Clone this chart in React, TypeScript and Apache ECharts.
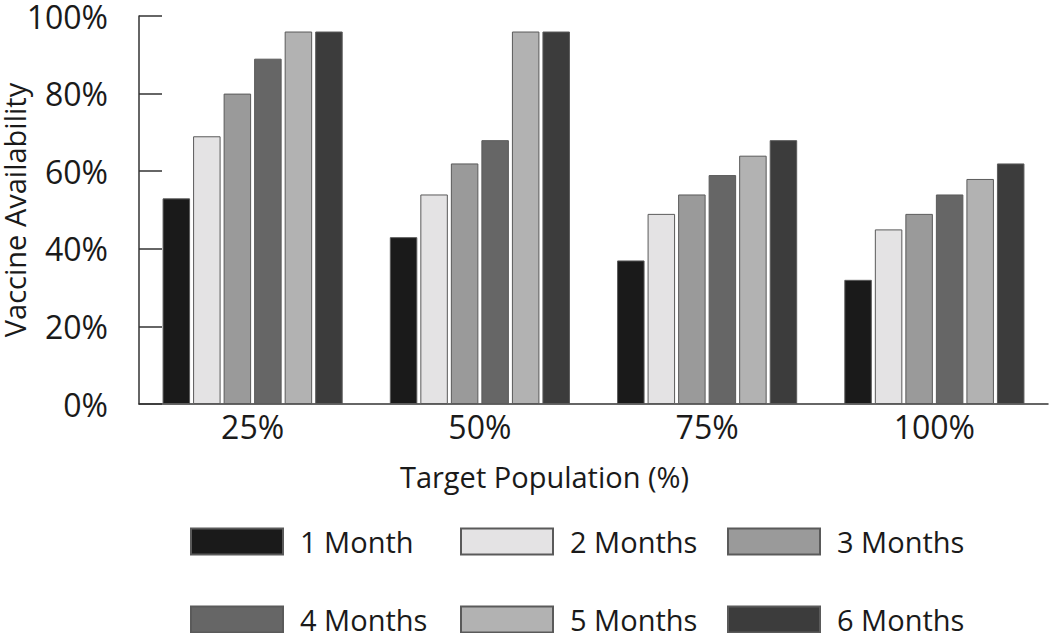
import React, { useEffect, useRef } from "react";
import * as echarts from "echarts";

const categories = ["25%", "50%", "75%", "100%"];
const seriesNames = ["1 Month", "2 Months", "3 Months", "4 Months", "5 Months", "6 Months"];
const month1 = [53, 43, 37, 32];
const month2 = [69, 54, 49, 45];
const month3 = [80, 62, 54, 49];
const month4 = [89, 68, 59, 54];
const month5 = [96, 96, 64, 58];
const month6 = [96, 96, 68, 62];
const seriesValues = [month1, month2, month3, month4, month5, month6];
const colors = ["#1a1a1a", "#e4e3e4", "#9a9a9a", "#666666", "#b2b2b2", "#3c3c3c"];
const yTicks = [0, 20, 40, 60, 80, 100];

const FONT = "'Open Sans', sans-serif";
const TEXT = "#1a1a1a";

export default function App() {
  const ref = useRef<HTMLDivElement>(null);
  useEffect(() => {
    if (!ref.current) return;
    const chart = echarts.init(ref.current, undefined, { renderer: "svg" });
    const legendPos = [
      { left: 190, top: 527 },
      { left: 460, top: 527 },
      { left: 727, top: 527 },
      { left: 190, top: 605 },
      { left: 460, top: 605 },
      { left: 727, top: 605 },
    ];
    chart.setOption({
      animation: false,
      textStyle: { fontFamily: FONT },
      grid: {
        left: 139,
        right: 2,
        top: 16,
        bottom: 229,
        containLabel: false,
        outerBoundsMode: "none",
      },
      xAxis: {
        type: "category",
        data: categories,
        name: "Target Population (%)",
        nameLocation: "middle",
        nameGap: 58,
        nameMoveOverlap: false,
        nameTextStyle: { fontSize: 29, color: TEXT, fontFamily: FONT, padding: [0, 98, 0, 0] },
        axisLine: { lineStyle: { color: "#333", width: 1.5 } },
        axisTick: { inside: true, length: 9, lineStyle: { color: "#333", width: 1.5 } },
        axisLabel: { fontSize: 32, color: TEXT, fontFamily: FONT, margin: 6 },
      },
      yAxis: {
        type: "value",
        min: 0,
        max: 100,
        interval: 20,
        name: "Vaccine Availability",
        nameLocation: "middle",
        nameGap: 112,
        nameMoveOverlap: false,
        nameTextStyle: { fontSize: 29, lineHeight: 26, color: TEXT, fontFamily: FONT },
        axisLine: { show: true, lineStyle: { color: "#333", width: 1.5 } },
        axisTick: { show: true, inside: true, length: 23, lineStyle: { color: "#333", width: 1.5 } },
        splitLine: { show: false },
        axisLabel: {
          fontSize: 32,
          lineHeight: 24,
          color: TEXT,
          fontFamily: FONT,
          margin: 31,
          formatter: (v: number) => (yTicks.includes(v) ? v + "%" : ""),
        },
      },
      legend: seriesNames.map((n, i) => ({
        data: [n],
        left: legendPos[i].left,
        top: legendPos[i].top,
        itemWidth: 92,
        itemHeight: 26,
        padding: 0,
        icon: "rect",
        textStyle: {
          fontSize: 29,
          lineHeight: 22,
          color: TEXT,
          fontFamily: FONT,
          padding: [0, 0, 0, 12],
        },
      })),
      series: seriesNames.map((n, i) => ({
        type: "bar",
        name: n,
        data: seriesValues[i],
        barWidth: 27.5,
        barGap: "11%",
        itemStyle: { color: colors[i], borderColor: "#5a5a5a", borderWidth: 1 },
      })),
    });
    return () => chart.dispose();
  }, []);
  return (
    <div
      ref={ref}
      style={{ position: "fixed", left: 0, top: 0, width: 1050, height: 633, background: "#fff" }}
    />
  );
}
